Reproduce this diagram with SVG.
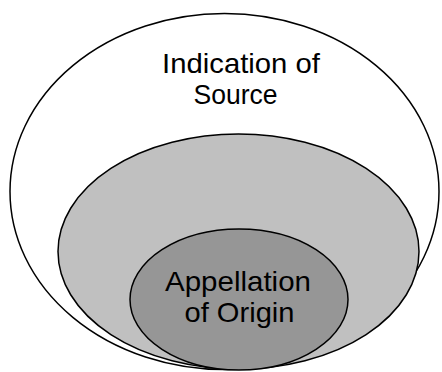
<svg xmlns="http://www.w3.org/2000/svg" width="442" height="372" viewBox="0 0 442 372">
<style>
.e{stroke:#000;stroke-width:1.5}
.t{font-family:"Liberation Sans",Arial,sans-serif;font-size:28px;fill:#000;text-anchor:middle}
</style>
<rect width="442" height="372" fill="#fff"/>
<g id="indication-of-source">
<ellipse class="e" cx="224.5" cy="191.5" rx="214.5" ry="178" fill="#fff"/>
<text class="t" x="241" y="73" textLength="158" lengthAdjust="spacingAndGlyphs">Indication of</text>
<text class="t" x="235.5" y="104" textLength="84" lengthAdjust="spacingAndGlyphs">Source</text>
</g>
<g id="middle">
<ellipse class="e" cx="238.5" cy="251.5" rx="180.5" ry="117.5" fill="#c0c0c0"/>
</g>
<g id="appellation-of-origin">
<ellipse class="e" cx="239" cy="299.5" rx="109" ry="70.5" fill="#969696"/>
<text class="t" x="238" y="291" textLength="146" lengthAdjust="spacingAndGlyphs">Appellation</text>
<text class="t" x="239.5" y="322" textLength="110" lengthAdjust="spacingAndGlyphs">of Origin</text>
</g>
<g id="connectors"/>
</svg>
